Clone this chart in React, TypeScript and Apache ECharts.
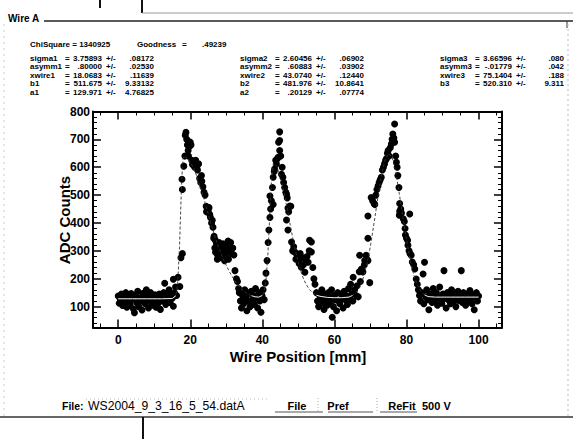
import React, { useEffect, useRef } from "react";
import * as echarts from "echarts";

// ---- measured points (Wire Position [mm], ADC Counts) ----
const base1 = [
  [0,138],[0.3,112],[0.6,125],[0.9,145],[1.2,104],[1.5,130],[1.8,118],[2.1,150],[2.4,98],[2.7,135],
  [3,122],[3.3,108],[3.6,147],[3.9,128],[4.2,92],[4.5,78],[4.8,140],[5.1,115],[5.4,155],[5.7,100],
  [6,132],[6.3,120],[6.6,88],[6.9,148],[7.2,126],[7.5,110],[7.8,160],[8.1,138],[8.4,95],[8.7,122],
  [9,150],[9.3,105],[9.6,132],[9.9,118],[10.2,142],[10.5,98],[10.8,128],[11.1,112],[11.4,145],[11.7,90],
  [12,135],[12.3,120],[12.6,150],[12.9,184],[13.2,108],[13.5,140],[13.8,125],[14.1,160],[14.4,115],[14.7,145],
  [15,130],[15.3,101],[15.3,198],[15.6,150],[15.9,170],[16.2,140],[16.6,205],[17.1,172],[17.4,275],[17.8,290]
];
const peak1 = [
  [17.7,557],[17.8,520],[18.2,604],[18.5,640],[18.6,715],[18.8,725],[19.0,700],[19.2,680],[19.4,660],[19.5,640],
  [19.6,685],[19.8,675],[20.0,690],[20.2,680],[20.4,625],[20.6,610],[20.9,620],[21.2,600],[21.5,625],[21.8,600],
  [22.0,590],[22.3,612],[22.6,560],[22.9,545],[23.1,570],[23.2,550],[23.5,530],[23.8,510],[24.1,500],[24.4,460],
  [24.5,440],[24.7,450],[25.0,440],[25.2,455],[25.4,430],[25.6,420],[25.9,400],[26.1,410],[26.3,385],[26.6,352],
  [26.9,340],[27.2,330]
];
const shoulder1 = [
  [26.5,345],[26.8,310],[27.0,295],[27.3,320],[27.5,270],[27.6,285],[27.9,300],[28.0,330],[28.2,275],[28.5,310],
  [28.8,290],[29.1,325],[29.4,300],[29.5,265],[29.7,280],[30.0,315],[30.3,295],[30.5,335],[30.6,270],[30.9,305],
  [31.2,330],[31.5,290],[31.8,310],[32.1,285],[32.4,229],[32.8,200],[33.1,190],[33.4,165]
];
const valley1 = [
  [33.6,150],[33.9,120],[34.2,95],[34.5,140],[34.8,110],[35.1,160],[35.4,130],[35.7,85],[36.0,145],[36.3,118],
  [36.6,100],[36.9,155],[37.2,125],[37.5,140],[37.8,108],[38.1,165],[38.4,130],[38.7,95],[39.0,150],[39.3,120],
  [39.6,80],[39.9,140],[40.2,160],[40.5,125],[40.8,185]
];
const peak2 = [
  [41.0,220],[41.3,265],[41.6,330],[41.8,375],[42.1,420],[42.1,497],[42.3,450],[42.5,480],[42.8,527],[43.0,466],
  [43.0,564],[43.3,585],[43.4,594],[43.7,625],[43.9,612],[44.1,630],[44.4,636],[44.5,690],[44.8,727],[44.8,696],
  [44.8,660],[45.1,640],[45.3,575],[45.5,600],[45.7,564],[45.9,545],[46.2,527],[46.5,510],[46.7,503],[46.7,411],
  [46.9,490],[47.1,454],[47.1,375],[47.3,440],[47.6,461],[47.9,460]
];
const shoulder2 = [
  [48.1,332],[48.4,300],[48.7,315],[49.0,296],[49.3,270],[49.6,285],[49.9,271],[50.2,255],[50.5,290],[50.8,241],
  [51.1,275],[51.4,250],[51.8,223],[52.1,260],[52.4,280],[52.7,259],[53.0,300],[53.1,338],[53.6,332],[53.6,296],
  [54.0,240],[54.3,200],[54.6,180]
];
const valley2 = [
  [55.0,150],[55.3,120],[55.6,100],[55.9,140],[56.2,130],[56.5,160],[56.8,115],[57.1,90],[57.4,145],[57.7,125],
  [58.0,105],[58.3,150],[58.6,135],[58.9,118],[59.2,160],[59.4,62],[59.7,100],[60.0,140],[60.3,125],[60.6,85],
  [60.9,150],[61.2,120],[61.5,110],[61.8,145],[62.1,130],[62.4,95],[62.7,155],[63.0,125],[63.3,140],[63.6,108],
  [63.9,165],[64.2,130],[64.5,180],[64.8,145],[65.1,120],[65.2,205],[65.6,160],[66.0,140],[66.3,175],[66.6,135],
  [66.9,225],[67.0,284],[67.2,190],[67.5,235],[67.9,224],[68.3,250],[68.4,265],[68.8,284],[69.0,270],[69.3,265],
  [69.3,345],[69.3,425],[69.8,186]
];
const peak3 = [
  [70.2,491],[70.6,480],[71.0,470],[71.2,466],[71.5,500],[71.8,520],[72.1,533],[72.4,545],[72.7,555],[73.0,564],
  [73.3,590],[73.6,600],[73.9,612],[74.2,625],[74.4,630],[74.7,650],[74.9,660],[75.2,640],[75.5,670],[75.8,683],
  [76.0,700],[76.2,719],[76.5,705],[76.7,755],[76.7,690],[77.0,640],[77.2,618],[77.4,600],[77.6,570],[77.9,527],
  [78.0,428],[78.1,470],[78.1,442],[78.4,450],[78.6,436],[79.1,415],[79.4,405],[79.6,380],[79.7,357],[80.0,345],
  [80.3,338],[80.4,320],[80.9,432],[80.7,300],[81.0,290],[81.3,284],[81.6,260],[82.0,250],[82.3,235],[82.7,199],
  [83.0,180],[83.3,160]
];
const base3 = [
  [83.6,140],[83.9,120],[84.2,150],[84.6,217],[84.8,110],[85.0,259],[85.3,135],[85.6,160],[85.9,125],[86.2,89],
  [86.5,145],[86.8,130],[87.1,115],[87.4,165],[87.7,138],[88.0,120],[88.3,150],[88.6,105],[88.9,135],[89.2,170],
  [89.5,128],[89.8,112],[90.1,145],[90.4,229],[90.7,130],[91.0,95],[91.3,150],[91.6,125],[91.9,140],[92.2,110],
  [92.5,160],[92.8,132],[93.1,118],[93.4,145],[93.7,100],[94.0,138],[94.3,155],[94.6,122],[94.9,140],[95.2,229],
  [95.5,115],[95.8,150],[96.1,130],[96.4,105],[96.7,145],[97.0,135],[97.3,120],[97.6,158],[97.9,128],[98.2,110],
  [98.5,142],[98.8,89],[99.1,135],[99.4,150],[99.7,120],[100.0,138]
];

// ---- fitted curve ----
const fitX = [0,4,8,12,15,16,16.5,17,17.5,17.8,18.07,19,20,21,22,23,24,25,26,27,28,29,30,31,32,33,34,35,36,37,38,39,40,40.5,41,41.5,42,42.5,43.07,44,45,46,47,48,49,50,51,52,53,54,55,56,58,60,62,64,65,66,67,68,69,70,71,72,73,74,75,76,77,78,79,80,81,82,83,84,85,86,88,92,96,100];
const fitY = [128,128,128,128,129,139,185,313,511,600,640,635,619,594,561,521,477,431,386,345,308,275,247,222,200,181,166,154,145,139,135,134,140,155,195,280,411,545,615,603,566,510,443,374,310,256,213,183,162,149,141,137,133,132,132,134,140,151,171,203,252,318,400,487,566,624,650,636,585,505,420,340,270,215,178,155,142,136,134,134,134,134];

// ---- axes ----
const xMajorTicks = [0, 20, 40, 60, 80, 100];
const xMinorTicks = [-5, 5, 10, 15, 25, 30, 35, 45, 50, 55, 65, 70, 75, 85, 90, 95, 105];
const yMajorTicks = [100, 200, 300, 400, 500, 600, 700, 800];
const yMinorTicks = [40,60,80,120,140,160,180,220,240,260,280,320,340,360,380,420,440,460,480,520,540,560,580,620,640,660,680,720,740,760,780];

// ---- fit parameters panel ----
const chiSquare = "1340925";
const goodness = ".49239";
const names1 = ["sigma1", "asymm1", "xwire1", "b1", "a1"];
const values1 = ["3.75893", ".80000", "18.0683", "511.675", "129.971"];
const errs1 = [".08172", ".02530", ".11639", "9.33132", "4.76825"];
const names2 = ["sigma2", "asymm2", "xwire2", "b2", "a2"];
const values2 = ["2.60456", ".60883", "43.0740", "481.976", ".20129"];
const errs2 = [".06902", ".03902", ".12440", "10.8641", ".07774"];
const names3 = ["sigma3", "asymm3", "xwire3", "b3"];
const values3 = ["3.66596", "-.01779", "75.1404", "520.310"];
const errs3 = [".080", ".042", ".188", "9.311"];
const fileName = "WS2004_9_3_16_5_54.datA";
const buttons = ["File", "Pref", "ReFit"];
const voltage = "500 V";

const X_MIN = -7, X_MAX = 106.5, Y_MIN = 25, Y_MAX = 800;
const SANS = "'Liberation Sans', Arial, sans-serif";

function xAxisDef(position: "top" | "bottom", ticks: number[], len: number, line: boolean, labels: boolean) {
  return {
    type: "value", position, min: X_MIN, max: X_MAX,
    axisLine: { show: line, onZero: false, lineStyle: { color: "#000", width: 2 } },
    axisTick: { show: true, inside: true, length: len, customValues: ticks, lineStyle: { color: "#000", width: len > 5 ? 1.5 : 1 } },
    axisLabel: labels
      ? { show: true, customValues: ticks, color: "#000", fontFamily: SANS, fontWeight: "bold", fontSize: 12, margin: 6 }
      : { show: false },
    splitLine: { show: false },
  };
}
function yAxisDef(position: "left" | "right", ticks: number[], len: number, line: boolean, labels: boolean) {
  return {
    type: "value", position, min: Y_MIN, max: Y_MAX,
    axisLine: { show: line, onZero: false, lineStyle: { color: "#000", width: 2 } },
    axisTick: { show: true, inside: true, length: len, customValues: ticks, lineStyle: { color: "#000", width: len > 5 ? 1.5 : 1 } },
    axisLabel: labels
      ? { show: true, customValues: ticks, color: "#000", fontFamily: SANS, fontWeight: "bold", fontSize: 12, margin: 3 }
      : { show: false },
    splitLine: { show: false },
  };
}

function txt(text: string, x: number, y: number, font: string, align = "left", extra: any = {}) {
  return { type: "text", x, y, ...extra, style: { text, font, fill: "#000", align, verticalAlign: "middle" } };
}
function ln(x1: number, y1: number, x2: number, y2: number, stroke: string, lineWidth: number, lineDash?: number[]) {
  return { type: "line", shape: { x1, y1, x2, y2 }, style: { stroke, lineWidth, lineDash } };
}

export default function App() {
  const ref = useRef<HTMLDivElement>(null);
  useEffect(() => {
    const chart = echarts.init(ref.current!, null, { renderer: "svg" });
    const points = [...base1, ...peak1, ...shoulder1, ...valley1, ...peak2, ...shoulder2, ...valley2, ...peak3, ...base3];
    const fitAll = fitX.map((x, i) => [x, fitY[i]]);
    const fitFlat = fitX.map((x, i) => [x, fitY[i] < 145 ? fitY[i] : "-"]);

    const PF = `bold 8px ${SANS}`;
    const rowsY = [58, 66.5, 75, 83.5, 92];
    const cols: [number, string[], string[], string[]][] = [
      [30, names1, values1, errs1],
      [240, names2, values2, errs2],
      [440, names3, values3, errs3],
    ];
    const params: any[] = [];
    cols.forEach(([cx, ns, vs, es]) => {
      ns.forEach((n, i) => {
        const y = rowsY[i];
        params.push(txt(n, cx, y, PF));
        params.push(txt("=", cx + 35, y, PF));
        params.push(txt(vs[i], cx + 72, y, PF, "right"));
        params.push(txt("+/-", cx + 76, y, PF));
        params.push(txt(es[i], cx + 124, y, PF, "right"));
      });
    });

    const btnX = [297, 338, 402];
    const graphic: any[] = [
      // panel frame
      ln(44, 21, 573, 21, "#222", 1.5),
      ln(100, 0, 100, 8, "#111", 2),
      ln(142, 0, 142, 13, "#111", 2),
      ln(142, 13, 573, 13, "#999", 1),
      ln(567, 21, 567, 28, "#333", 1),
      ln(568, 24, 568, 416, "#bbb", 1, [2, 3]),
      ln(4, 24, 4, 416, "#ccc", 1, [2, 4]),
      ln(0, 417, 573, 417, "#333", 1.5),
      ln(143, 417, 143, 439, "#111", 2),
      txt("Wire A", 8, 18, `bold 10px ${SANS}`),
      txt(`ChiSquare = ${chiSquare}`, 30, 44, PF),
      txt("Goodness", 137, 44, PF),
      txt("=", 182, 44, PF),
      txt(goodness, 202, 44, PF),
      ...params,
      // axis titles
      txt("ADC Counts", 64, 220, `bold 15px ${SANS}`, "center", { rotation: Math.PI / 2 }),
      txt("Wire Position [mm]", 298, 356, `bold 15px ${SANS}`, "center"),
      // bottom bar
      txt("File:", 62, 406, `bold 10.5px ${SANS}`),
      ln(86, 399, 268, 399, "#bbb", 1, [1, 3]),
      txt(fileName, 88, 406, `12.2px ${SANS}`),
      ...buttons.map((b, i) => txt(b, btnX[i], 406, `bold 11px ${SANS}`, "center")),
      txt(voltage, 422, 406, `bold 11px ${SANS}`),
      ln(275, 412, 323, 412, "#555", 1),
      ln(328, 412, 373, 412, "#555", 1),
      ln(380, 412, 417, 412, "#555", 1),
      ln(318, 398, 318, 412, "#aaa", 1, [1, 2]),
      ln(377, 398, 377, 412, "#aaa", 1, [1, 2]),
    ];

    chart.setOption({
      animation: false,
      backgroundColor: "#fff",
      grid: { left: 93, right: 71, top: 111.5, bottom: 111.5, containLabel: false },
      xAxis: [
        xAxisDef("bottom", xMajorTicks, 8, true, true),
        xAxisDef("bottom", xMinorTicks, 4, false, false),
        xAxisDef("top", xMajorTicks, 8, true, false),
        xAxisDef("top", xMinorTicks, 4, false, false),
      ],
      yAxis: [
        yAxisDef("left", yMajorTicks, 8, true, true),
        yAxisDef("left", yMinorTicks, 4, false, false),
        yAxisDef("right", yMajorTicks, 8, true, false),
        yAxisDef("right", yMinorTicks, 4, false, false),
      ],
      series: [
        {
          type: "scatter", data: points, symbol: "circle", symbolSize: 7,
          itemStyle: { color: "#000", opacity: 1 }, z: 2,
        },
        {
          type: "line", data: fitAll, showSymbol: false, symbol: "none", z: 3,
          lineStyle: { color: "#333", width: 0.9, type: [3, 2] },
        },
        {
          type: "line", data: fitFlat, showSymbol: false, symbol: "none", z: 4, connectNulls: false,
          lineStyle: { color: "#eee", width: 1 },
        },
      ],
      graphic,
    });
    return () => chart.dispose();
  }, []);
  return (
    <div
      ref={ref}
      style={{ position: "absolute", left: 0, top: 0, width: 573, height: 439, background: "#fff" }}
    />
  );
}
